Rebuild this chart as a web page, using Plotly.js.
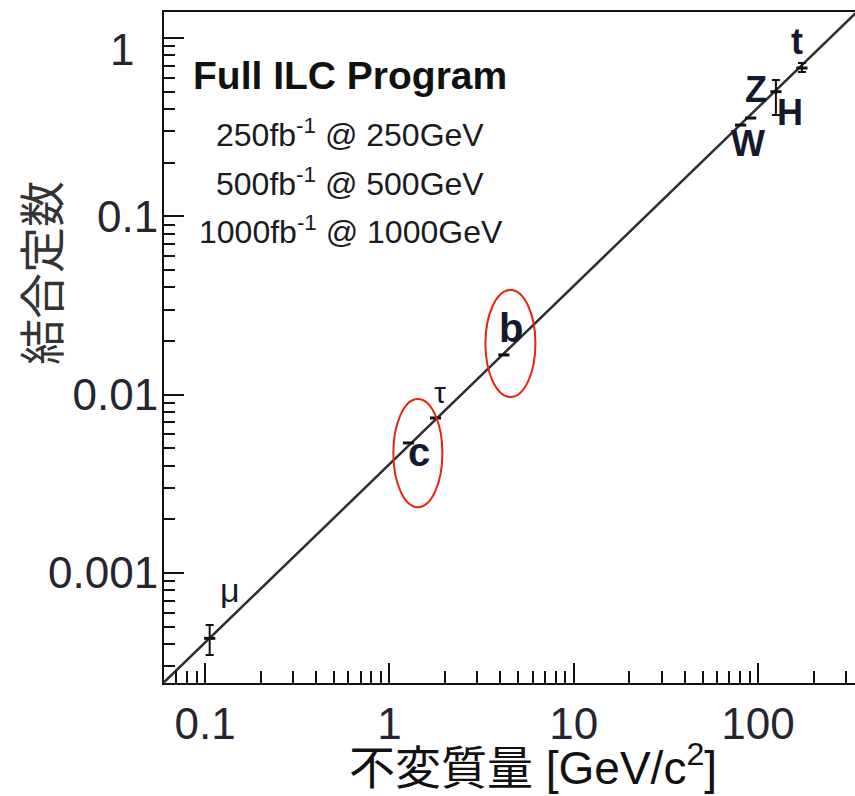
<!DOCTYPE html>
<html>
<head>
<meta charset="utf-8">
<script src="https://cdn.plot.ly/plotly-3.0.1.min.js"></script>
<style>html,body{margin:0;padding:0;background:#fff;}</style>
</head>
<body>
<div id="chart" style="width:855px;height:796px;"></div>
<script>
// ---- data ----
const particles = ['μ', 'c', 'τ', 'b', 'W', 'Z', 'H', 't'];
const massGeV   = [0.106, 1.27, 1.78, 4.18, 80.4, 91.2, 125, 173];
const coupling  = [0.00043, 0.00536, 0.0074, 0.0167, 0.325, 0.356, 0.50, 0.679];
const errPlus   = [0.00008, 0, 0, 0, 0, 0, 0.081, 0.045];
const errMinus  = [0.000083, 0, 0, 0, 0, 0, 0.13, 0.035];

// reference line (two points)
const lineMass     = [0.06, 400];
const lineCoupling = [0.000244, 1.63];

// tick labels
const xTickVals  = [0.1, 1, 10, 100];
const xTickText  = ['0.1', '1', '10', '100'];
const yTickVals  = [0.001, 0.01, 0.1, 1];
const yTickText  = ['0.001', '0.01', '0.1', ''];
const xMinorVals = [0.06,0.07,0.08,0.09, 0.2,0.3,0.4,0.5,0.6,0.7,0.8,0.9, 2,3,4,5,6,7,8,9,
                    20,30,40,50,60,70,80,90, 200,300];
const yMinorVals = [0.0003,0.0004,0.0005,0.0006,0.0007,0.0008,0.0009,
                    0.002,0.003,0.004,0.005,0.006,0.007,0.008,0.009,
                    0.02,0.03,0.04,0.05,0.06,0.07,0.08,0.09,
                    0.2,0.3,0.4,0.5,0.6,0.7,0.8,0.9];

// highlighted regions (ellipses around c and b)
const ellipseMass     = [[1.051, 1.94], [3.32, 6.2]];
const ellipseCoupling = [[0.00234, 0.00946], [0.0097, 0.0386]];

// ---- styling ----
const labelShift = [[20,48],[11,-9],[4,25],[7,27],[7,-18],[5,29],[14,-21],[-5,27]];
const labelSize  = [34, 40, 30, 40, 36, 36, 36, 36];
const labelBold  = [false, true, false, true, true, true, true, true];
const ink = '#15192e';

const traces = [
  {
    x: lineMass, y: lineCoupling, mode: 'lines', type: 'scatter',
    line: {color: '#2e2e2e', width: 2.5}, hoverinfo: 'skip', showlegend: false
  },
  {
    x: massGeV, y: coupling, mode: 'markers', type: 'scatter', text: particles,
    marker: {symbol: 'line-ew', size: 8, line: {width: 3, color: '#111'}, color: '#111'},
    error_y: {type: 'data', symmetric: false, array: errPlus, arrayminus: errMinus,
              width: 4, thickness: 2, color: '#111'},
    showlegend: false
  }
];

const tickFont = {family: 'Liberation Sans, Arial, sans-serif', size: 44, color: '#25252f'};

const annotations = [];
particles.forEach((p, i) => {
  annotations.push({
    x: Math.log10(massGeV[i]), y: Math.log10(coupling[i]), xref: 'x', yref: 'y',
    text: labelBold[i] ? '<b>' + p + '</b>' : p, showarrow: false,
    xshift: labelShift[i][0], yshift: labelShift[i][1],
    xanchor: 'center', yanchor: 'middle',
    font: {family: 'Liberation Sans, Arial, sans-serif', size: labelSize[i], color: ink}
  });
});
const infoFont = {family: 'Liberation Sans, Arial, sans-serif', size: 32, color: '#1a1a22'};
annotations.push(
  {xref: 'paper', yref: 'paper', x: 0.2692, y: 0.9061, xanchor: 'center', yanchor: 'middle',
   showarrow: false, text: '<b>Full ILC Program</b>',
   font: {family: 'Liberation Sans, Arial, sans-serif', size: 39, color: '#111'}},
  {xref: 'paper', yref: 'paper', x: 0.2692, y: 0.8197, xanchor: 'center', yanchor: 'middle',
   showarrow: false, text: '250fb<sup>-1</sup> @ 250GeV', font: infoFont},
  {xref: 'paper', yref: 'paper', x: 0.2692, y: 0.7466, xanchor: 'center', yanchor: 'middle',
   showarrow: false, text: '500fb<sup>-1</sup> @ 500GeV', font: infoFont},
  {xref: 'paper', yref: 'paper', x: 0.2706, y: 0.6751, xanchor: 'center', yanchor: 'middle',
   showarrow: false, text: '1000fb<sup>-1</sup> @ 1000GeV', font: infoFont},
  {xref: 'paper', yref: 'paper', x: -0.0608, y: 0.9434, xanchor: 'center', yanchor: 'middle',
   showarrow: false, text: '1', font: tickFont},
  {xref: 'paper', yref: 'paper', x: 0.534, y: -0.1222, xanchor: 'center', yanchor: 'middle',
   showarrow: false, text: '不変質量 [GeV/c<sup>2</sup>]',
   font: {family: 'Liberation Sans, Noto Sans CJK JP, sans-serif', size: 46, color: '#111'}},
  {xref: 'paper', yref: 'paper', x: -0.1809, y: 0.611, xanchor: 'center', yanchor: 'middle',
   showarrow: false, text: '結合定数', textangle: -90,
   font: {family: 'Noto Sans CJK JP, sans-serif', size: 46, color: '#333'}}
);

const shapes = ellipseMass.map((m, i) => ({
  type: 'circle', xref: 'x', yref: 'y',
  x0: m[0], x1: m[1], y0: ellipseCoupling[i][0], y1: ellipseCoupling[i][1],
  line: {color: '#e8230f', width: 2}
}));

const layout = {
  width: 855, height: 796,
  margin: {l: 164, r: 0, t: 12, b: 113, pad: 0},
  paper_bgcolor: '#fff', plot_bgcolor: '#fff',
  showlegend: false,
  xaxis: {
    type: 'log', range: [-1.2225, 2.526],
    showline: true, linecolor: '#111', linewidth: 2, mirror: true,
    ticks: 'inside', ticklen: 20, tickwidth: 2, tickcolor: '#111',
    tickmode: 'array', tickvals: xTickVals, ticktext: xTickText,
    tickfont: tickFont, ticklabelstandoff: 1,
    showgrid: false, zeroline: false,
    minor: {tickmode: 'array', tickvals: xMinorVals, ticks: 'inside', ticklen: 12,
            tickwidth: 2, tickcolor: '#111', showgrid: false}
  },
  yaxis: {
    type: 'log', range: [-3.617, 0.146],
    showline: true, linecolor: '#111', linewidth: 2, mirror: false,
    ticks: 'inside', ticklen: 20, tickwidth: 2, tickcolor: '#111',
    tickmode: 'array', tickvals: yTickVals, ticktext: yTickText,
    tickfont: tickFont, ticklabelstandoff: -5,
    showgrid: false, zeroline: false,
    minor: {tickmode: 'array', tickvals: yMinorVals, ticks: 'inside', ticklen: 11,
            tickwidth: 2, tickcolor: '#111', showgrid: false}
  },
  annotations: annotations,
  shapes: shapes
};

Plotly.newPlot('chart', traces, layout, {displayModeBar: false, staticPlot: true});
</script>
</body>
</html>
